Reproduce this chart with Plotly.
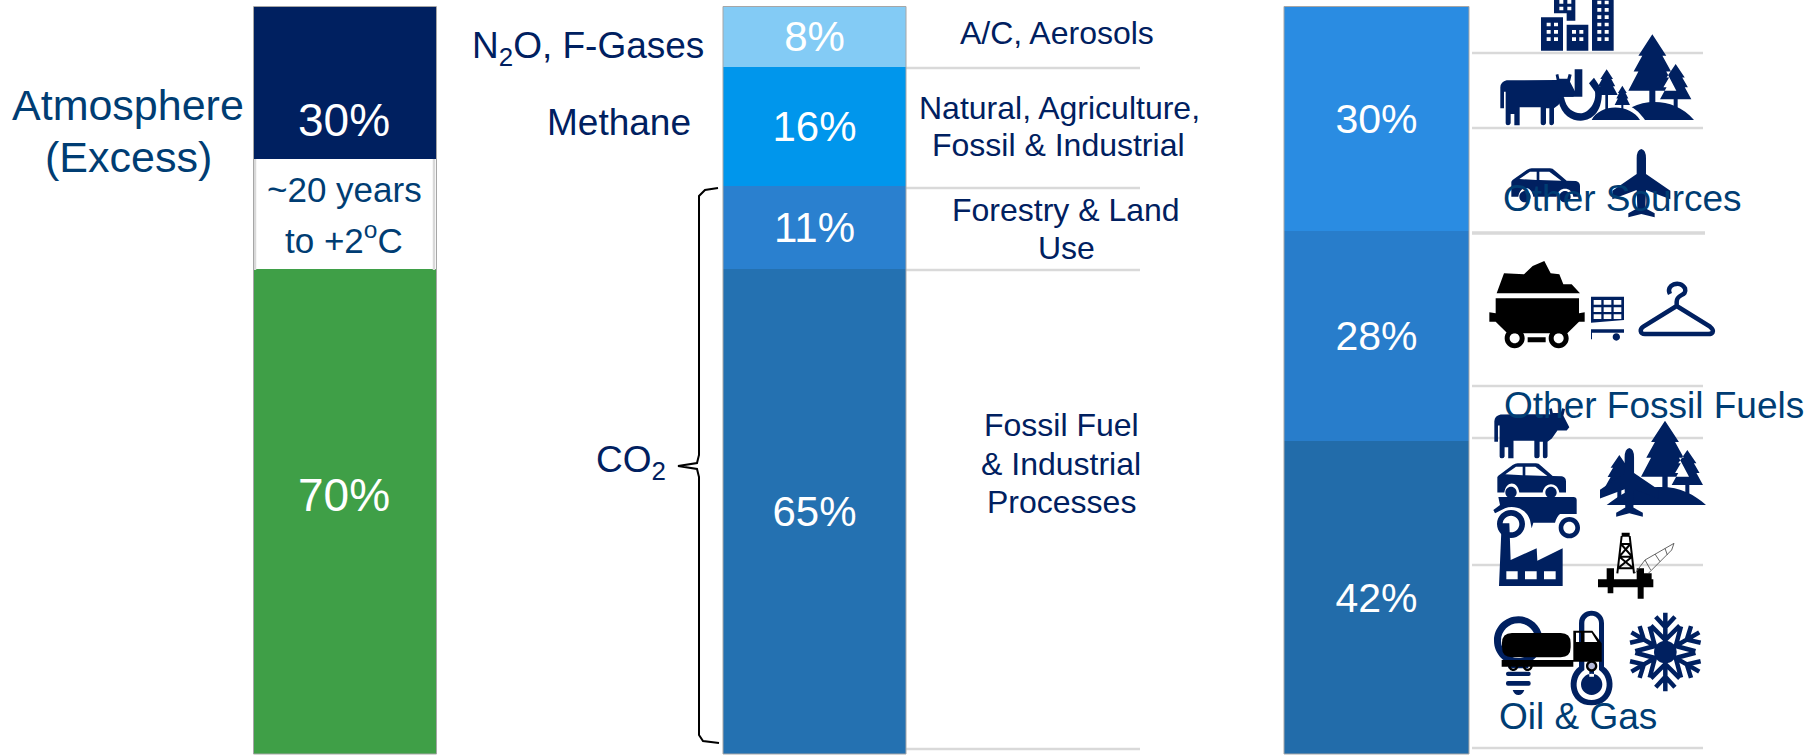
import re, math
import plotly.graph_objects as go

# ---------- data ----------
atm_categories = ["Remaining budget", "~20 years to +2°C", "Atmosphere (Excess)"]
atm_values = [64.9, 14.8, 20.3]
gas_categories = ["CO2 Fossil Fuel & Industrial Processes", "CO2 Forestry & Land Use", "Methane", "N2O, F-Gases"]
gas_values = [65, 11, 16, 8]
gas_labels = ["65%", "11%", "16%", "8%"]
src_categories = ["Oil & Gas", "Other Fossil Fuels", "Other Sources"]
src_values = [42, 28, 30]
src_labels = ["42%", "28%", "30%"]

# ---------- styles ----------
W, H = 1810, 755
NAVY = "#002060"
TEAL = "#003D73"
GRID = "#d9d9d9"
BLACK = "#000000"
SANS = "Liberation Sans, Arial, sans-serif"
atm_colors = ["#3F9F47", "#FFFFFF", "#002060"]
gas_colors = ["#2471B1", "#2A80CF", "#0096EC", "#83CBF5"]
src_colors = ["#226CAA", "#287DCB", "#2A8CE2"]

BAR_TOP, BAR_BOTTOM = 6.5, 754
COLS = [(253.5, 436.5), (723, 906), (1284, 1469)]

fig = go.Figure()
axes = [("x", "y"), ("x2", "y2"), ("x3", "y3")]
for c, v, col in zip(atm_categories, atm_values, atm_colors):
    fig.add_trace(go.Bar(x=["Atmosphere"], y=[v], name=c, marker=dict(color=col, line=dict(width=0)),
                         xaxis="x", yaxis="y", width=1))
for i, (cats, vals, labs, cols, name, size) in enumerate([
        (gas_categories, gas_values, gas_labels, gas_colors, "Gases", 42),
        (src_categories, src_values, src_labels, src_colors, "Sources", 41)]):
    for c, v, l, col in zip(cats, vals, labs, cols):
        fig.add_trace(go.Bar(
            x=[name], y=[v], name=c, marker=dict(color=col, line=dict(width=0)),
            text=[l], textposition="inside", insidetextanchor="middle", textangle=0,
            insidetextfont=dict(family=SANS, size=size, color="#FFFFFF"),
            xaxis=axes[i + 1][0], yaxis=axes[i + 1][1], width=1))

def px(x, y):
    return x / W, 1 - y / H

shapes = []
def hline(x0, x1, y, w=2.5):
    a, b = px(x0, y), px(x1, y)
    shapes.append(dict(type="line", xref="paper", yref="paper", x0=a[0], y0=a[1], x1=b[0], y1=b[1],
                       line=dict(color=GRID, width=w), layer="above"))
def vline(x, y0, y1, w=2.5):
    a, b = px(x, y0), px(x, y1)
    shapes.append(dict(type="line", xref="paper", yref="paper", x0=a[0], y0=a[1], x1=b[0], y1=b[1],
                       line=dict(color=GRID, width=w), layer="above"))

for y in [68, 188, 270, 749]:
    hline(906, 1140, y)
for y in [53, 128, 386, 438, 565, 748]:
    hline(1472, 1703, y)
hline(1472, 1705, 233, 3.5)
vline(255, 159, 270)
vline(434, 159, 270)

for x0, x1 in COLS:
    a, b = px(x0, BAR_TOP), px(x1, BAR_BOTTOM)
    shapes.append(dict(type="rect", xref="paper", yref="paper", x0=a[0], y0=a[1], x1=b[0], y1=b[1],
                       line=dict(color="#a6a6a6", width=1), fillcolor="rgba(0,0,0,0)", layer="above"))

# ---------- icon helpers (paths are drawn at 3x inside a frame) ----------
PAIR = re.compile(r"(-?\d+\.?\d*)[ ,]+(-?\d+\.?\d*)")
FA, FB, FC = (1490, 0), (1480, 250), (1480, 510)

def add(path, frame, fill=NAVY, stroke=None, w=0, lb=None, tb=None):
    def conv(m):
        x, y = float(m.group(1)), float(m.group(2))
        if lb:
            x = tb[0] + (x - lb[0]) * (tb[2] - tb[0]) / (lb[2] - lb[0])
            y = tb[1] + (y - lb[1]) * (tb[3] - tb[1]) / (lb[3] - lb[1])
        X, Y = px(frame[0] + x / 3, frame[1] + y / 3)
        return f"{X:.5f} {Y:.5f}"
    shapes.append(dict(type="path", xref="paper", yref="paper", path=PAIR.sub(conv, path), layer="above",
                       line=dict(width=w, color=stroke or "rgba(0,0,0,0)"),
                       fillcolor=fill if fill else "rgba(0,0,0,0)"))

def rect(x0, y0, x1, y1):
    return f"M{x0} {y0} L{x1} {y0} L{x1} {y1} L{x0} {y1} Z "
def circ(cx, cy, r):
    k = 0.5523 * r
    return (f"M{cx-r} {cy} C{cx-r} {cy-k} {cx-k} {cy-r} {cx} {cy-r} "
            f"C{cx+k} {cy-r} {cx+r} {cy-k} {cx+r} {cy} "
            f"C{cx+r} {cy+k} {cx+k} {cy+r} {cx} {cy+r} "
            f"C{cx-k} {cy+r} {cx-r} {cy+k} {cx-r} {cy} Z ")
def rrect(x0, y0, x1, y1, r):
    return (f"M{x0+r} {y0} L{x1-r} {y0} Q{x1} {y0} {x1} {y0+r} L{x1} {y1-r} Q{x1} {y1} {x1-r} {y1} "
            f"L{x0+r} {y1} Q{x0} {y1} {x0} {y1-r} L{x0} {y0+r} Q{x0} {y0} {x0+r} {y0} Z ")
def tree(cx, top, hw, base, trunk, end):
    h = base - top
    pts = [(cx, top), (cx+.58*hw, top+.38*h), (cx+.42*hw, top+.38*h), (cx+.78*hw, top+.66*h),
           (cx+.58*hw, top+.66*h), (cx+hw, top+h), (cx+trunk, top+h), (cx+trunk, end),
           (cx-trunk, end), (cx-trunk, top+h), (cx-hw, top+h), (cx-.58*hw, top+.66*h),
           (cx-.78*hw, top+.66*h), (cx-.42*hw, top+.38*h), (cx-.58*hw, top+.38*h)]
    return "M" + " L".join(f"{a:.1f} {b:.1f}" for a, b in pts) + " Z "

COW = ("M31 325 L31 262 Q32 245 50 241 L200 240 L197 224 L205 222 L208 236 L232 236 L236 222 L245 224 L240 245 "
       "L258 280 L250 290 L222 290 L205 315 L192 325 L192 370 Q190 376 184 376 Q178 376 178 370 L178 325 L168 325 "
       "L168 370 Q166 376 160 376 Q152 376 152 370 L152 322 L89 322 L89 376 L73 376 L73 342 L62 342 L62 370 "
       "Q60 376 54 376 Q47 376 47 370 L47 275 L42 275 L42 325 Z")
COW_BOX = (31, 222, 258, 376)
CAR = ("M64 590 L64 545 Q66 540 75 535 L110 510 Q118 505 125 505 L180 505 Q188 505 195 512 L230 542 L258 543 "
       "Q270 546 270 558 L270 590 L250 590 C245 558 205 558 200 590 L130 590 C125 555 90 555 85 590 Z "
       "M88 537 L120 515 L140 515 L140 540 Z M148 515 L178 515 L214 542 L148 540 Z "
       + circ(105, 590, 17) + circ(225, 590, 17))
CAR_BOX = (64, 505, 270, 607)
PLANE = ("M454 447 Q468 450 468 475 L468 522 L541 572 L541 598 L468 570 L466 625 L494 640 L494 652 L454 642 "
         "L415 652 L415 640 L442 625 L440 570 L367 598 L367 572 L440 522 L440 475 Q440 450 454 447 Z")
PLANE_BOX = (367, 447, 541, 652)

# Other Sources group
b = rect(153, 52, 219, 152) + rect(230, 74, 295, 152) + rect(306, 0, 371, 152) + \
    "M192 0 L256 0 L256 62 L230 62 L230 40 L192 40 Z "
for x, y in [(170, 68), (192, 68), (170, 90), (192, 90), (170, 112), (192, 112), (246, 90), (268, 90),
             (246, 112), (268, 112), (208, 0), (232, 0), (208, 20), (232, 20)]:
    b += rect(x, y, x + 12, y + 11)
for i in range(6):
    for x in (322, 344):
        b += rect(x, 2 + i * 22, x + 12, 13 + i * 22)
add(b, FA)
add(COW, FA)
add(rect(254, 208, 277, 290) + rect(222, 283, 254, 290), FA)
add("M205 302 C215 345 245 362 272 362 C310 362 340 330 335 268 L312 233 L297 250 L315 275 "
    "C320 310 295 338 272 340 C250 340 228 325 222 292 L205 292 Z", FA)
add(tree(487, 103, 72, 272, 9, 310) + tree(557, 192, 47, 298, 6, 325) + tree(350, 208, 33, 285, 4, 335)
    + tree(397, 257, 23, 315, 3, 328), FA)
add("M305 360 C330 310 420 310 450 360 Z M465 360 C450 340 438 328 425 322 C480 295 560 300 612 360 Z", FA)
add(CAR, FA)
add(PLANE, FA)

# Other Fossil Fuels group
add("M50 130 L72 70 L132 73 L158 48 L193 33 L212 70 L238 73 L250 103 L275 103 L300 130 Z", FB, fill=BLACK)
add("M47 145 L297 145 L297 190 L314 187 L314 215 L297 215 L262 250 L82 250 L47 215 L28 215 L28 187 L47 190 Z", FB, fill=BLACK)
add(circ(104, 265, 30) + circ(104, 265, 15) + circ(236, 265, 30) + circ(236, 265, 15) + rect(143, 262, 197, 277), FB, fill=BLACK)
c = "M333 140 L432 140 L432 210 L333 218 Z "
for x in (341, 371, 401):
    for y in (150, 172, 193):
        c += rect(x, y, x + 23, y + 14)
add(c + rect(333, 238, 432, 248) + rect(333, 248, 336, 268) + circ(409, 261, 11), FB)
add("M570 132 C555 105 600 88 615 115 C622 140 590 130 590 155 L590 168 M590 168 L690 230 C708 245 695 252 685 252 "
    "L495 252 C480 252 478 238 490 230 Z", FB, fill=None, stroke=NAVY, w=4.5)

# Oil & Gas group
add(COW, FB, lb=COW_BOX, tb=(43, 475, 268, 625))
add(tree(555, 512, 72, 680, 8, 720) + tree(622, 600, 47, 705, 6, 735) + tree(418, 615, 45, 715, 6, 745), FB)
add("M380 765 C420 735 470 700 520 712 C590 705 640 730 678 765 Z", FB)
add(PLANE, FB, lb=PLANE_BOX, tb=(360, 594, 536, 800))
add(CAR, FB, lb=CAR_BOX, tb=(52, 640, 258, 745))
add("M55 -39 L280 -39 Q290 -39 290 -30 L290 12 L240 12 Q230 20 225 38 L160 38 L155 55 L150 30 C140 -5 100 -15 75 -5 "
    "L45 10 L40 0 L60 -15 Z", FC)
add(circ(93, 42, 42) + circ(93, 42, 25) + circ(268, 53, 32) + circ(268, 53, 18), FC)
add("M65 40 L88 40 L92 150 L170 115 L172 152 L248 115 L248 228 L57 228 Z " + rect(79, 184, 113, 208)
    + rect(135, 184, 170, 208) + rect(192, 184, 227, 208), FC)
add(rect(354, 208, 520, 232) + rect(380, 175, 402, 208) + rect(470, 175, 492, 208) + rect(492, 190, 515, 208)
    + rect(383, 232, 400, 250) + rect(473, 232, 491, 266) + rect(425, 68, 449, 80), FC, fill=BLACK)
add("M412 190 L425 78 M462 190 L449 78 M423 102 L451 102 M418 140 L456 140 M414 175 L460 175 "
    "M423 102 L456 140 M451 102 L418 140 M418 140 L460 175 M456 140 L414 175", FC, fill=None, stroke=BLACK, w=2)
add("M465 190 L495 150 L582 100 L575 120 L505 190 M495 150 L512 180 M525 132 L540 155 M555 115 L562 135",
    FC, fill=None, stroke="#555555", w=0.9)
add(circ(115, 392, 73) + circ(115, 392, 52) + rrect(78, 485, 152, 498, 6) + rrect(78, 513, 152, 527, 6)
    + "M98 540 L133 540 Q128 555 115 555 Q103 555 98 540 Z " + rect(85, 455, 145, 475), FC)
add("M297 470 L297 340 C297 290 372 290 372 340 L372 470 C415 500 405 586 335 586 C265 586 255 500 297 470 Z "
    "M313 480 L313 340 C313 310 357 310 357 340 L357 480 C395 505 385 570 335 570 C285 570 275 505 313 480 Z", FC)
add(circ(335, 523, 32) + rect(328, 468, 342, 500), FC)
add(rrect(66, 369, 272, 442, 30)
    + "M280 362 L337 362 L365 400 L365 455 L280 455 Z M288 368 L303 368 L303 396 L288 396 Z M313 368 L335 368 L352 396 L313 396 Z "
    + rect(65, 450, 280, 470), FC, fill=BLACK)
add(circ(100, 468, 15) + circ(100, 468, 8) + circ(143, 468, 15) + circ(143, 468, 8) + circ(335, 468, 17), FC, fill=BLACK)
add(circ(335, 468, 10), FC, fill="#B4B8D8")
# snowflake
sf = ""
CX, CY, R = 556, 426, 120
for k in range(6):
    a = math.radians(90 + 60 * k)
    ca, sa = math.cos(a), math.sin(a)
    def P(r, off):
        return f"{CX + (r * ca - off * sa) * R:.1f} {CY - (r * sa + off * ca) * R:.1f}"
    sf += f"M{P(0, 0)} L{P(.98, 0)} "
    for r0, r1, o in [(.3, .66, .36), (.62, .88, .24)]:
        sf += f"M{P(r0, 0)} L{P(r1, o)} M{P(r0, 0)} L{P(r1, -o)} "
add(sf, FC, fill=None, stroke=NAVY, w=4.5)
add(circ(556, 426, 34), FC)

# bracket
pts = [(718, 188), (705, 190), (699, 196), (699, 455), (697, 463), (678, 466), (697, 469), (699, 477),
       (699, 735), (703, 741), (719, 743)]
pth = "M" + " L".join("{:.5f} {:.5f}".format(*px(*p)) for p in pts)
shapes.append(dict(type="path", xref="paper", yref="paper", path=pth, layer="above",
                   line=dict(color=BLACK, width=2), fillcolor="rgba(0,0,0,0)"))

# ---------- texts ----------
anns = []
def label(text, x, y, size, color=NAVY):
    X, Y = px(x, y)
    anns.append(dict(text=text, x=X, y=Y, xref="paper", yref="paper", xanchor="center", yanchor="middle",
                     showarrow=False, font=dict(family=SANS, size=size, color=color)))

label("Atmosphere", 128, 105, 43, TEAL)
label("(Excess)", 128, 157, 43, TEAL)
label("30%", 344, 120, 46, "#FFFFFF")
label("70%", 344, 495, 46, "#FFFFFF")
label("~20 years", 344, 190, 35, TEAL)
label("to +2<sup>o</sup>C", 344, 238, 35, TEAL)
label("N<sub>2</sub>O, F-Gases", 588, 48, 37)
label("Methane", 619, 122, 37)
label("CO<sub>2</sub>", 631, 462, 37)
label("A/C, Aerosols", 1057, 33, 32)
label("Natural, Agriculture,", 1059, 108, 32)
label("Fossil & Industrial", 1058, 145, 32)
label("Forestry & Land", 1066, 210, 32)
label("Use", 1066, 248, 32)
label("Fossil Fuel", 1061, 425, 32)
label("& Industrial", 1061, 464, 32)
label("Processes", 1061, 502, 32)
label("Other Sources", 1622, 199, 37, TEAL)
label("Other Fossil Fuels", 1654, 405, 37, TEAL)
label("Oil & Gas", 1578, 716, 37, TEAL)

# ---------- layout ----------
dom_y = [1 - BAR_BOTTOM / H, 1 - BAR_TOP / H]
layout = dict(width=W, height=H, margin=dict(l=0, r=0, t=0, b=0), autosize=False, barmode="stack", bargap=0,
              showlegend=False, paper_bgcolor="#FFFFFF", plot_bgcolor="#FFFFFF",
              shapes=shapes, annotations=anns, hovermode=False)
for i, (x0, x1) in enumerate(COLS):
    s = "" if i == 0 else str(i + 1)
    layout["xaxis" + s] = dict(domain=[x0 / W, x1 / W], visible=False, type="category", anchor="y" + s)
    layout["yaxis" + s] = dict(domain=dom_y, range=[0, 100], visible=False, anchor="x" + s)
fig.update_layout(**layout)
fig.write_html("out.html", config=dict(displayModeBar=False),
               post_script="document.body.style.margin='0';document.body.style.overflow='hidden';")
